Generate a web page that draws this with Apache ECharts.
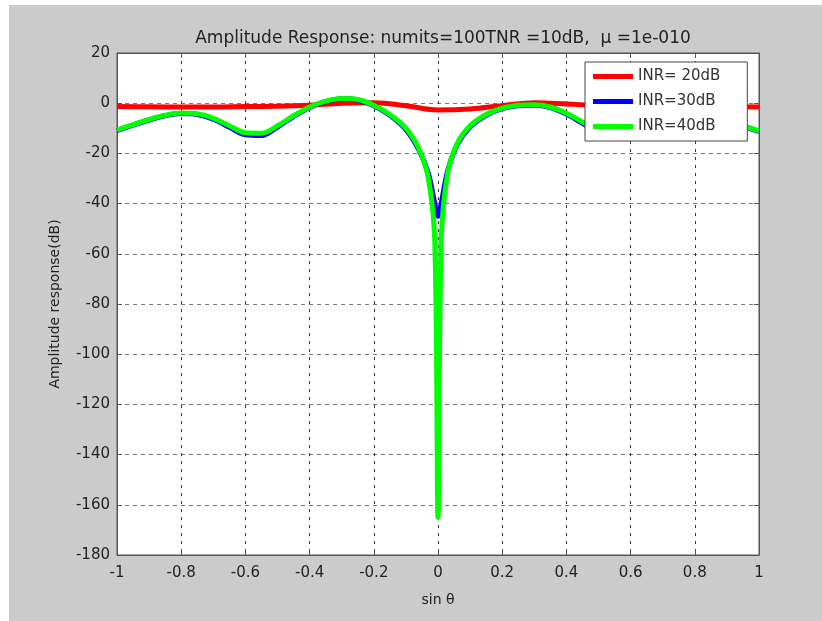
<!DOCTYPE html>
<html>
<head>
<meta charset="utf-8">
<title>Amplitude Response</title>
<script src="https://cdn.jsdelivr.net/npm/echarts@6/dist/echarts.min.js"></script>
<style>
    html, body { margin: 0; padding: 0; background: #fff; }
    #chart { position: absolute; left: 9px; top: 5px; width: 813px; height: 616px; }
</style>
</head>
<body>
<div id="chart"></div>
<script>
// sin(theta) sample points
var xsRed = [-1, -0.9, -0.8, -0.7, -0.6, -0.5, -0.4, -0.3, -0.2, -0.1, 0, 0.1, 0.2, 0.3, 0.4, 0.5, 0.6, 0.7, 0.8, 0.9, 1];
var inr20 = [-1.3, -1.4, -1.5, -1.5, -1.3, -1.2, -0.8, 0, 0.2, -1, -2.7, -2.3, -1, 0.2, -0.3, -1, -1.2, -1.3, -1.4, -1.4, -1.5];

var xs = [-1, -0.95, -0.9, -0.85, -0.8, -0.75, -0.7, -0.65, -0.6, -0.55, -0.5, -0.45, -0.4, -0.35, -0.3, -0.25, -0.2, -0.15, -0.1, -0.06, -0.03, -0.01, 0,
          0.01, 0.03, 0.06, 0.1, 0.15, 0.2, 0.25, 0.3, 0.35, 0.4, 0.45, 0.5, 0.55, 0.6, 0.65, 0.7, 0.75, 0.8, 0.85, 0.9, 0.95, 1];
var inr30 = [-10.9, -8.7, -6.7, -5, -4.1, -4.5, -6.4, -9.6, -12.6, -12.9, -9.5, -5.3, -1.7, 0.6, 1.8, 1.3, -1, -4.8, -10.5, -18.5, -28, -40, -45,
             -40, -27, -16.5, -9.5, -4.8, -2.2, -1, -0.8, -1.7, -4.3, -8, -11.6, -13, -11.5, -8.4, -5.8, -4.2, -4.2, -5.2, -7.2, -9.2, -11.2];
var inr40 = [-10.7, -8.5, -6.5, -4.8, -3.9, -4.2, -6, -9, -11.8, -12, -9, -5, -1.5, 0.8, 1.9, 1.5, -0.8, -4.5, -10, -18, -30, -55, -165,
             -55, -28, -16, -9, -4.5, -2, -0.8, -0.6, -1.5, -4, -7.5, -11, -12.5, -11, -8, -5.5, -4, -4, -5, -7, -9, -11];

var xTicks = [-1, -0.8, -0.6, -0.4, -0.2, 0, 0.2, 0.4, 0.6, 0.8, 1];
var yTicks = [20, 0, -20, -40, -60, -80, -100, -120, -140, -160, -180];

function pairs(x, y) {
    var out = [];
    for (var i = 0; i < x.length; i++) {
        out.push([x[i], y[i]]);
    }
    return out;
}

var font = 'DejaVu Sans';
var lineIcon = 'path://M0,0 L40,0 L40,5 L0,5 Z';
var myChart = echarts.init(document.getElementById('chart'));
myChart.setOption({
    backgroundColor: '#cbcbcb',
    animation: false,
    title: {
        text: 'Amplitude Response: numits=100TNR =10dB,  \u03bc =1e-010',
        left: 429,
        top: 20,
        textAlign: 'center',
        textStyle: { fontFamily: font, fontSize: 17, fontWeight: 'normal', color: '#222' }
    },
    legend: {
        orient: 'vertical',
        left: 576,
        top: 57,
        padding: [7, 27, 7, 8],
        itemGap: 10,
        itemWidth: 40,
        itemHeight: 14,
        backgroundColor: '#fff',
        borderColor: '#444',
        borderWidth: 1,
        borderRadius: 0,
        textStyle: { fontFamily: font, fontSize: 15, color: '#333' },
        data: [
            { name: 'INR= 20dB', icon: lineIcon },
            { name: 'INR=30dB', icon: lineIcon },
            { name: 'INR=40dB', icon: lineIcon }
        ]
    },
    grid: {
        left: 108,
        top: 48,
        right: 63,
        bottom: 66,
        show: true,
        backgroundColor: '#fff',
        borderColor: '#555',
        borderWidth: 1
    },
    xAxis: [{
        type: 'value',
        min: -1,
        max: 1,
        interval: 0.2,
        name: 'sin \u03b8',
        nameLocation: 'middle',
        nameGap: 38,
        nameTextStyle: { fontFamily: font, fontSize: 14, color: '#222' },
        axisLine: { onZero: false, lineStyle: { color: '#555' } },
        axisTick: { inside: true, length: 5, lineStyle: { color: '#555' } },
        axisLabel: {
            margin: 11, fontFamily: font, fontSize: 15, color: '#222',
            formatter: function (v) { return String(xTicks[Math.round((v + 1) / 0.2)]); }
        },
        splitLine: { show: true, lineStyle: { color: '#333', type: [3, 5] } }
    }, {
        type: 'value', position: 'top', min: -1, max: 1, interval: 0.2,
        axisLine: { onZero: false, lineStyle: { color: '#555' } },
        axisTick: { inside: true, length: 5, lineStyle: { color: '#555' } },
        axisLabel: { show: false },
        splitLine: { show: false }
    }],
    yAxis: [{
        type: 'value',
        min: -180,
        max: 20,
        interval: 20,
        name: 'Amplitude response(dB)',
        nameLocation: 'middle',
        nameGap: 55,
        nameTextStyle: { fontFamily: font, fontSize: 14, color: '#222' },
        axisLine: { show: true, onZero: false, lineStyle: { color: '#555' } },
        axisTick: { show: true, inside: true, length: 5, lineStyle: { color: '#555' } },
        axisLabel: {
            margin: 7, fontFamily: font, fontSize: 15, color: '#222',
            formatter: function (v) { return String(yTicks[Math.round((20 - v) / 20)]); }
        },
        splitLine: { show: true, lineStyle: { color: '#777', type: [4, 4] } }
    }, {
        type: 'value', position: 'right', min: -180, max: 20, interval: 20,
        axisLine: { show: true, onZero: false, lineStyle: { color: '#555' } },
        axisTick: { show: true, inside: true, length: 5, lineStyle: { color: '#555' } },
        axisLabel: { show: false },
        splitLine: { show: false }
    }],
    series: [
        {
            name: 'INR= 20dB', type: 'line', data: pairs(xsRed, inr20),
            smooth: 0.4, showSymbol: false, color: '#ff0000',
            lineStyle: { width: 5, color: '#ff0000' }
        },
        {
            name: 'INR=30dB', type: 'line', data: pairs(xs, inr30),
            smooth: 0.35, showSymbol: false, color: '#0000ff',
            lineStyle: { width: 5, color: '#0000ff' }
        },
        {
            name: 'INR=40dB', type: 'line', data: pairs(xs, inr40),
            smooth: 0.35, showSymbol: false, color: '#00ff00',
            lineStyle: { width: 5, color: '#00ff00' }
        }
    ]
});
</script>
</body>
</html>
